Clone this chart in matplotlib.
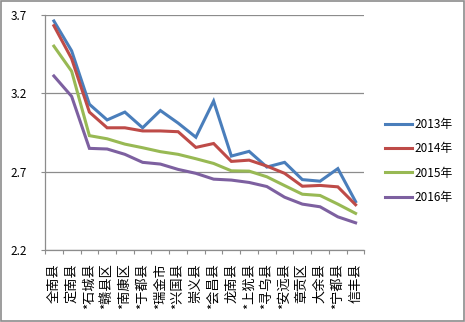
import matplotlib
matplotlib.use("Agg")
import matplotlib.pyplot as plt
from matplotlib.patches import Rectangle

plt.rcParams["font.family"] = ["Noto Sans CJK SC", "DejaVu Sans"]

COUNTIES = ["全南县", "定南县", "*石城县", "*赣县区", "*南康区", "*于都县",
            "*瑞金市", "*兴国县", "崇义县", "*会昌县", "龙南县", "*上犹县",
            "*寻乌县", "*安远县", "章贡区", "大余县", "*宁都县", "信丰县"]
YEARS = ["2013年", "2014年", "2015年", "2016年"]
V2013 = [3.66, 3.47, 3.13, 3.03, 3.08, 2.98, 3.09, 3.01, 2.92, 3.15,
         2.80, 2.83, 2.73, 2.76, 2.65, 2.64, 2.72, 2.51]
V2014 = [3.63, 3.42, 3.08, 2.98, 2.98, 2.96, 2.96, 2.955, 2.855, 2.88,
         2.766, 2.774, 2.736, 2.69, 2.608, 2.613, 2.604, 2.49]
V2015 = [3.50, 3.34, 2.93, 2.91, 2.876, 2.853, 2.828, 2.811, 2.783, 2.753,
         2.706, 2.704, 2.668, 2.612, 2.557, 2.549, 2.494, 2.435]
V2016 = [3.31, 3.18, 2.849, 2.845, 2.811, 2.76, 2.749, 2.715, 2.69, 2.653,
         2.647, 2.632, 2.606, 2.538, 2.494, 2.477, 2.413, 2.375]
COLORS = ["#4a7ebb", "#be4b48", "#98b954", "#7d60a0"]

fig = plt.figure(figsize=(4.65, 3.22), dpi=100)
ax = fig.add_axes([0.0968, 0.2227, 0.687, 0.7316])

x = list(range(len(COUNTIES)))
for vals, year, col in zip([V2013, V2014, V2015, V2016], YEARS, COLORS):
    ax.plot(x, vals, color=col, lw=2.2, label=year, solid_joinstyle="miter")

ax.set_xlim(-0.5, len(COUNTIES) - 0.5)
ax.set_ylim(2.2, 3.7)
ax.set_yticks([2.2, 2.7, 3.2, 3.7])
ax.set_yticklabels(["2.2", "2.7", "3.2", "3.7"])
ax.grid(True, axis="y", color="#8c8c8c", lw=0.9)
ax.set_axisbelow(True)

# category ticks sit on the boundaries, labels rotated to read bottom-up
ax.set_xticks([i - 0.5 for i in range(len(COUNTIES) + 1)])
ax.set_xticklabels([])
ax.set_xticks(x, minor=True)
ax.set_xticklabels(COUNTIES, minor=True, fontsize=9.5, rotation=90,
                   va="top", ha="center")
ax.tick_params(axis="x", which="minor", length=0, pad=9)
ax.tick_params(axis="x", which="major", length=3, width=0.8, color="#8c8c8c")
ax.tick_params(axis="y", length=3, width=0.8, color="#8c8c8c", pad=10,
               labelsize=8.5)

for s in ["top", "right"]:
    ax.spines[s].set_visible(False)
for s in ["left", "bottom"]:
    ax.spines[s].set_color("#8c8c8c")
    ax.spines[s].set_linewidth(0.9)

ax.legend(loc="center left", bbox_to_anchor=(1.03, 0.379), frameon=False,
          fontsize=8.5, handlelength=2.3, handletextpad=0.2, labelspacing=0.95)

fig.patches.append(Rectangle((0.5 / 465, 1.0 / 322), 463.5 / 465, 320 / 322,
                             transform=fig.transFigure, fill=False,
                             edgecolor="#8c8c8c", lw=1.2))

fig.savefig("out.png", dpi=100)
